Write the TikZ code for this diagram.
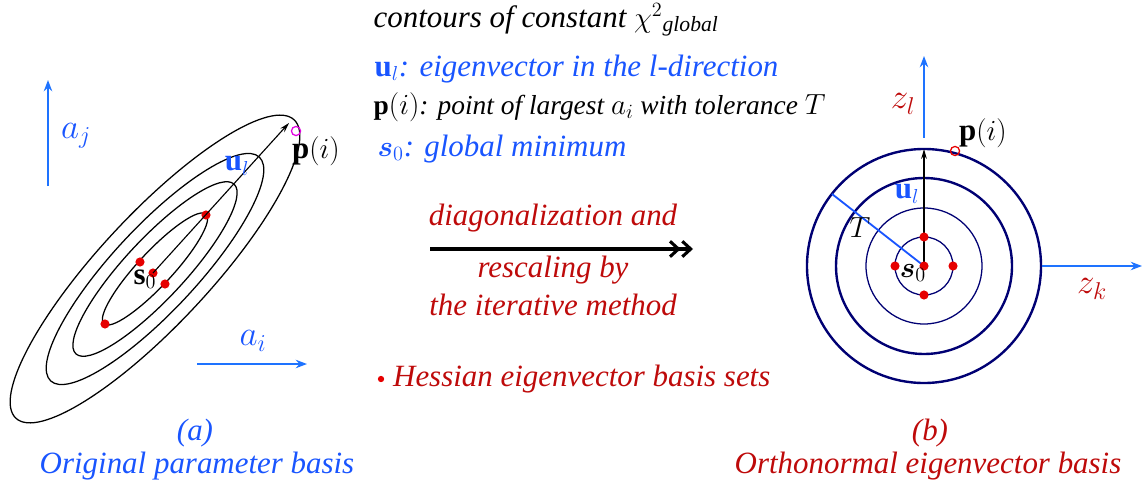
\documentclass[tikz,border=0pt]{standalone}
\usepackage{amsmath,amssymb}
\usepackage{bm}
\usepackage{fontspec}
\setmainfont{Liberation Serif}
\usepackage{tikz}
\usetikzlibrary{arrows.meta,positioning}
\definecolor{parblue}{RGB}{25,85,255}
\definecolor{axblue}{RGB}{30,115,255}
\definecolor{eigred}{RGB}{190,10,10}
\definecolor{dotred}{RGB}{230,0,0}
\definecolor{ringnavy}{RGB}{0,0,115}
\definecolor{pmag}{RGB}{225,0,225}
\tikzset{
  axis/.style    = {-{Stealth[length=8pt,width=6pt]}, line width=1.3pt, draw=axblue},
  vec/.style     = {-{Stealth[length=7pt,width=4pt]}, line width=0.8pt, draw=black},
  mapto/.style   = {-{Straight Barb[length=6pt,width=11pt] Straight Barb[length=6pt,width=11pt]},
                    line width=2.2pt, draw=black},
  contour/.style = {draw=black, line width=0.9pt},
  ring/.style    = {draw=ringnavy, line width=0.9pt},
  bigring/.style = {draw=ringnavy, line width=1.7pt},
  rdot/.style    = {circle, fill=dotred, inner sep=0pt, minimum size=6.5pt},
  pmark/.style   = {circle, draw, line width=0.9pt, inner sep=0pt, minimum size=6.5pt},
  txt/.style     = {inner sep=1pt, font=\fontsize{22}{26}\selectfont\itshape},
  smalltxt/.style= {inner sep=1pt, font=\fontsize{19.5}{23}\selectfont\itshape},
  mlbl/.style    = {inner sep=1pt, font=\fontsize{25}{28}\selectfont},
}

\begin{document}
\begin{tikzpicture}[x=0.025cm, y=-0.025cm]
\useasboundingbox (0,0) rectangle (1142,485);

%% Panel (a): original parameter basis
\coordinate (ctrA) at (155,269);
\foreach \ra/\rb in {75/17, 116/30, 153/42, 204/55}
  \draw[contour, rotate around={47:(ctrA)}] (ctrA) ellipse [x radius=\ra, y radius=\rb];

\coordinate (ajfoot) at (48,186);
\coordinate (ajtip)  at (48,80);
\coordinate (aifoot) at (197,364);
\coordinate (aitip)  at (307,364);
\draw[axis] (ajfoot) -- (ajtip);
\draw[axis] (aifoot) -- (aitip);
\node[mlbl, text=parblue] (aj) at (76,136) {$a_j$};
\node[mlbl, text=parblue] (ai) at (253,341) {$a_i$};

\node[rdot] (dtop)   at (206,215) {};
\node[rdot] (dbot)   at (105,324) {};
\node[rdot] (dleft)  at (140,262) {};
\node[rdot] (dright) at (165,284) {};
\node[rdot] (s0a)    at (153,273) {};
\coordinate (tipA) at (289,123);
\draw[vec] (s0a.center) -- (tipA);

\node[pmark, draw=pmag] (pa) at (296,131) {};
\node[txt, font=\fontsize{22}{26}\selectfont] (palbl) at (316,151) {$\mathbf{p}(i)$};
\node[txt, text=parblue] (ula) at (237,166) {$\mathbf{u}_l$};
\node[txt] (s0albl) at (145,279) {$\mathbf{s}_0$};

\node[txt, text=parblue] (capa)  at (195,433) {(a)};
\node[txt, text=parblue] (capa2) at (197,466) {Original parameter basis};

%% Legend
\node[txt, anchor=west] (leg1) at (372,20)
  {contours of constant $\chi^{2}{}_{\mathit{global}}$};
\node[txt, anchor=west, text=parblue] (leg2) at (373,69)
  {$\mathbf{u}_l$: eigenvector in the l-direction};
\node[smalltxt, anchor=west] (leg3) at (372,107)
  {$\mathbf{p}(i)$: point of largest $a_i$ with tolerance $T$};
\node[txt, anchor=west, text=parblue] (leg4) at (376,149)
  {$\boldsymbol{s}_0$: global minimum};

%% Transformation arrow
\coordinate (mapL) at (430,249);
\coordinate (mapR) at (693,249);
\draw[mapto] (mapL) -- (mapR);
\node[txt, text=eigred] (map1) at (553,218) {diagonalization and};
\node[txt, text=eigred] (map2) at (553,270) {rescaling by};
\node[txt, text=eigred] (map3) at (553,305) {the iterative method};

\node[rdot, minimum size=4.5pt] (hdot) at (381,379) {};
\node[txt, text=eigred, right=5pt of hdot] (hess) {Hessian eigenvector basis sets};

%% Panel (b): orthonormal eigenvector basis
\coordinate (ctrB) at (924,266);
\draw[ring] (ctrB) circle [radius=29];
\draw[ring] (ctrB) circle [radius=58];
\draw[bigring] (ctrB) circle [radius=88];
\draw[bigring] (ctrB) circle [radius=117];

\coordinate (zlfoot) at (924,138);
\coordinate (zltip)  at (924,56);
\coordinate (zkfoot) at (1042,266);
\coordinate (zktip)  at (1142,266);
\draw[axis] (zlfoot) -- (zltip);
\draw[axis] (zkfoot) -- (zktip);
\node[mlbl, text=eigred] (zl) at (903,104) {$z_l$};
\node[mlbl, text=eigred] (zk) at (1092,289) {$z_k$};

\coordinate (tedge) at (832,194);
\draw[draw=parblue, line width=1.3pt] (ctrB) -- (tedge);
\node[txt] (tlbl) at (860,228) {$T$};

\coordinate (tipB) at (924,149);
\draw[vec] (ctrB) -- (tipB);

\node[rdot] (bup)    at (924,237) {};
\node[rdot] (bdown)  at (924,295) {};
\node[rdot] (bleft)  at (895,266) {};
\node[rdot] (bright) at (953,266) {};
\node[rdot] (s0b)    at (ctrB) {};

\node[pmark, draw=dotred] (pb) at (955,151) {};
\node[txt] (pblbl) at (983,133) {$\mathbf{p}(i)$};
\node[txt, text=parblue] (ulb) at (907,194) {$\mathbf{u}_l$};
\node[txt] (s0blbl) at (913,273) {$\boldsymbol{s}_0$};

\node[txt, text=eigred] (capb)  at (930,433) {(b)};
\node[txt, text=eigred] (capb2) at (928,466) {Orthonormal eigenvector basis};

\end{tikzpicture}
\end{document}
